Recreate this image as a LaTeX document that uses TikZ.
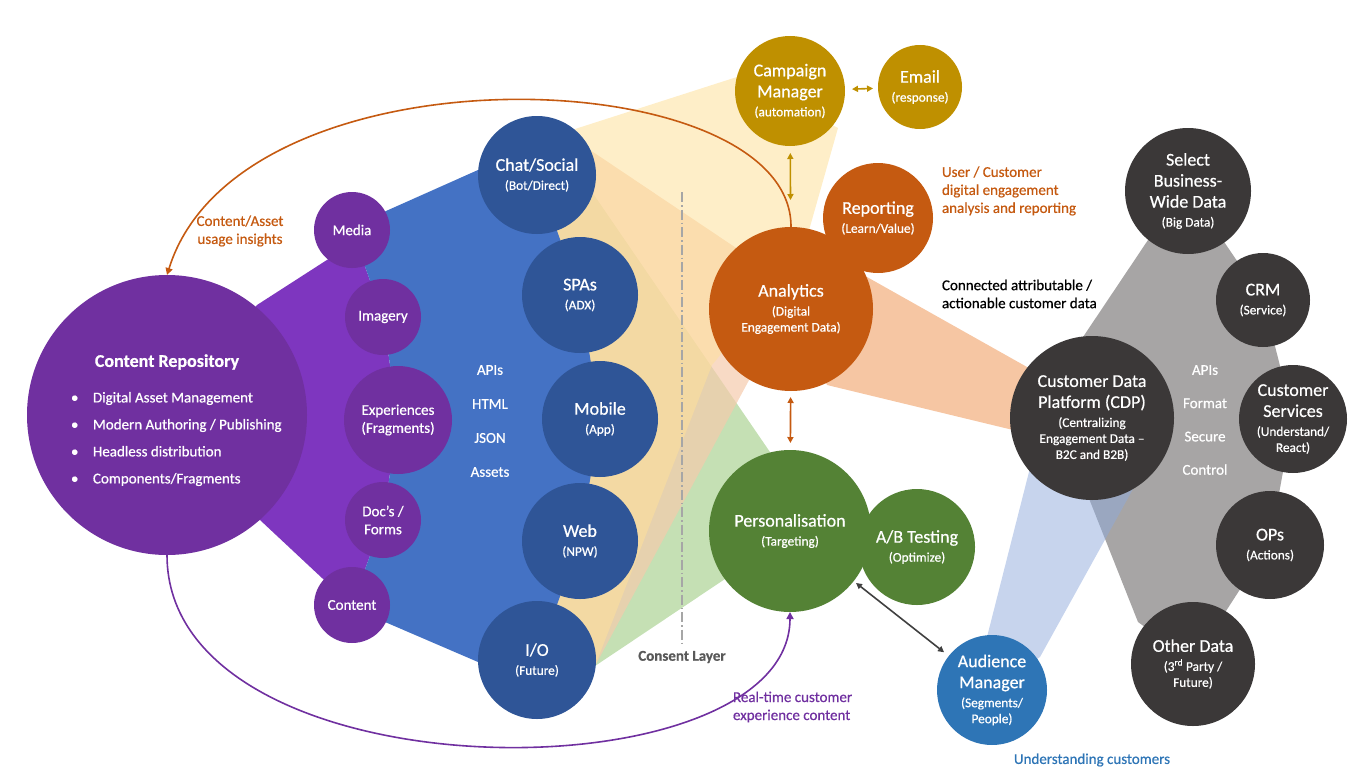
\documentclass[tikz,border=0pt]{standalone}
\usepackage{fontspec}
\setmainfont{Carlito}[FakeBold=0.6]
\usetikzlibrary{arrows.meta}
\definecolor{cpurple}{HTML}{7030A0}
\definecolor{fpurple}{HTML}{7E36BF}
\definecolor{cblue}{HTML}{2F5597}
\definecolor{fblue}{HTML}{4472C4}
\definecolor{cgold}{HTML}{BF9000}
\definecolor{corange}{HTML}{C55A11}
\definecolor{cgreen}{HTML}{548235}
\definecolor{camblue}{HTML}{2E75B6}
\definecolor{cdark}{HTML}{3B3838}
\definecolor{fgrey}{HTML}{A7A5A5}
\definecolor{fcm}{RGB}{254,224,155}
\definecolor{fan}{RGB}{245,203,172}
\definecolor{fgreen}{RGB}{197,224,180}
\definecolor{flblue}{HTML}{8FAADC}
\definecolor{fpeachsolid}{HTML}{F6C6A3}
\definecolor{cgreytext}{HTML}{595959}
\definecolor{cline}{HTML}{A6A6A6}
\definecolor{darrow}{HTML}{404040}
\newcommand\ttl[1]{{\fontsize{18}{21}\selectfont #1}}
\begin{document}
\begin{tikzpicture}[x=1pt,y=-1pt,
 every node/.style={inner sep=0pt, outer sep=0pt},
 bubble/.style={circle, text=white, align=center, font=\fontsize{13.3}{16}\selectfont},
 smallbub/.style={circle, text=white, align=center, font=\fontsize{15}{18}\selectfont, fill=cpurple, minimum size=76pt},
 lbl/.style={align=center, font=\fontsize{15}{18}\selectfont},
 tip/.style={-{Triangle[length=7pt,width=7pt]}},
 dtip/.style={{Triangle[length=6pt,width=6pt]}-{Triangle[length=6pt,width=6pt]}},
]
\useasboundingbox (0,0) rectangle (1362,784);
% ---- fans ----
\fill[fgreen] (537,175) -- (594,195) -- (772,455) -- (790,531) -- (725,579) -- (595,666) -- (537,660) -- cycle;
\fill[fan, fill opacity=0.7] (537,175) -- (590,150) -- (760,264) -- (791,309) -- (748,382) -- (595,666) -- (537,660) -- cycle;
\fill[fcm, fill opacity=0.55] (537,175) -- (575,129) -- (740,76) -- (838,128) -- (802,255) -- (712,365) -- (595,666) -- (537,660) -- cycle;
\fill[fpeachsolid] (791,309) -- (867,277) -- (1027,367) -- (1092,415) -- (1013,430) -- (827,385) -- cycle;
\fill[fgrey] (1188,189) -- (1150,237) -- (1083,337) -- (1092,415) -- (1088,496) -- (1138,622) -- (1193,662) -- (1270,543) -- (1293,417) -- (1263,299) -- cycle;
\fill[flblue, fill opacity=0.5] (992,690) -- (987,637) -- (1032,460) -- (1092,415) -- (1133,489) -- (1040,657) -- cycle;
\fill[fpurple] (167,415) -- (257,305) -- (330,258) -- (352,230) -- (383,317) -- (398,420) -- (383,520) -- (352,605) -- (322,578) -- (260,520) -- cycle;
\fill[fblue] (352,230) -- (386,211) -- (478,170) -- (537,175) -- (580,295) -- (600,419) -- (580,541) -- (537,660) -- (478,662) -- (385,622) -- (352,605) -- (383,520) -- (398,420) -- (383,317) -- cycle;
% ---- consent layer ----
\coordinate (cltop) at (682,192);
\node[font=\fontsize{15}{18}\selectfont\bfseries, text=cgreytext] (consent) at (682,657) {Consent Layer};
\draw[cline, line width=1.3pt, dash pattern=on 10pt off 3pt on 1.5pt off 3pt] (cltop) -- ([yshift=7pt]consent.north);
% ---- circles ----
\node[circle, fill=cpurple, minimum size=280pt] (cr) at (167,415) {};
\node[text=white, font=\fontsize{18}{21}\selectfont\bfseries] (crt) at (167,362) {Content Repository};
\node[text=white, align=left, anchor=west, font=\fontsize{15}{27}\selectfont] (crl) at (71,439) {\makebox[22pt][l]{\textbullet}Digital Asset Management\\\makebox[22pt][l]{\textbullet}Modern Authoring / Publishing\\\makebox[22pt][l]{\textbullet}Headless distribution\\\makebox[22pt][l]{\textbullet}Components/Fragments};
\node[smallbub] (media) at (352,230) {Media};
\node[smallbub] (imagery) at (383,317) {Imagery};
\node[smallbub, minimum size=108pt] (exper) at (398,420) {Experiences\\(Fragments)};
\node[smallbub] (docs) at (383,520) {Doc’s /\\Forms};
\node[smallbub] (content) at (352,605) {Content};
\node[bubble, fill=cblue, minimum size=118pt] (chat) at (537,175) {\ttl{Chat/Social}\\[3pt](Bot/Direct)};
\node[bubble, fill=cblue, minimum size=116pt] (spas) at (580,295) {\ttl{SPAs}\\[3pt](ADX)};
\node[bubble, fill=cblue, minimum size=116pt] (mobile) at (600,419) {\ttl{Mobile}\\[3pt](App)};
\node[bubble, fill=cblue, minimum size=116pt] (web) at (580,541) {\ttl{Web}\\[3pt](NPW)};
\node[bubble, fill=cblue, minimum size=118pt] (io) at (537,660) {\ttl{I/O}\\[3pt](Future)};
\node[text=white, align=center, font=\fontsize{15}{34}\selectfont] (apis) at (490,421) {APIs\\HTML\\JSON\\Assets};
\node[bubble, fill=cgold, minimum size=110pt] (cm) at (790,91) {\ttl{Campaign}\\[5pt]\ttl{Manager}\\[3pt](automation)};
\node[bubble, fill=cgold, minimum size=84pt] (email) at (920,87) {\ttl{Email}\\[3pt](response)};
\node[bubble, fill=corange, minimum size=110pt] (rep) at (878,218) {\ttl{Reporting}\\[3pt](Learn/Value)};
\node[bubble, fill=corange, minimum size=164pt] (an) at (791,309) {\ttl{Analytics}\\[3pt](Digital\\Engagement Data)};
\node[bubble, fill=cgreen, minimum size=162pt] (pers) at (790,531) {\ttl{Personalisation}\\[3pt](Targeting)};
\node[bubble, fill=cgreen, minimum size=116pt] (ab) at (917,547) {\ttl{A/B Testing}\\[3pt](Optimize)};
\node[bubble, fill=camblue, minimum size=110pt] (am) at (992,690) {\ttl{Audience}\\[5pt]\ttl{Manager}\\[3pt](Segments/\\People)};
\node[bubble, fill=cdark, minimum size=164pt] (cdp) at (1092,418) {\ttl{Customer Data}\\[5pt]\ttl{Platform (CDP)}\\[3pt](Centralizing\\Engagement Data –\\B2C and B2B)};
\node[bubble, fill=cdark, minimum size=126pt] (sel) at (1188,191) {\ttl{Select}\\[5pt]\ttl{Business-}\\[5pt]\ttl{Wide Data}\\[3pt](Big Data)};
\node[bubble, fill=cdark, minimum size=94pt] (crm) at (1263,300) {\ttl{CRM}\\[3pt](Service)};
\node[bubble, fill=cdark, minimum size=108pt] (cs) at (1293,419) {\ttl{Customer}\\[5pt]\ttl{Services}\\[3pt](Understand/\\React)};
\node[bubble, fill=cdark, minimum size=108pt] (ops) at (1270,545) {\ttl{OPs}\\[3pt](Actions)};
\node[bubble, fill=cdark, minimum size=124pt] (other) at (1193,664) {\ttl{Other Data}\\[3pt](3\textsuperscript{rd} Party /\\Future)};
\node[text=white, align=center, font=\fontsize{15}{33.3}\selectfont] (gapis) at (1205,420) {APIs\\Format\\Secure\\Control};
% ---- labels ----
\node[lbl, text=corange] (lcai) at (240,231) {Content/Asset\\usage insights};
\node[lbl, align=left, text=corange, anchor=west] (luser) at (942,191) {User / Customer\\digital engagement\\analysis and reporting};
\node[lbl, align=left, text=black, anchor=west] (lconn) at (942,294) {Connected attributable /\\actionable customer data};
\node[lbl, align=left, text=cpurple, anchor=west] (lrt) at (733,707) {Real-time customer\\experience content};
\node[lbl, text=camblue] (lund) at (1092,760) {Understanding customers};
% ---- connectors ----
\draw[tip, corange, line width=1.6pt] (an.north) .. controls (792,60) and (240,40) .. (cr.north);
\draw[tip, cpurple, line width=1.6pt] (cr.south) .. controls (167,800) and (790,800) .. (pers.south);
\draw[dtip, cgold, line width=1.6pt, shorten <=7pt, shorten >=27pt] (cm) -- (an);
\draw[dtip, corange, line width=1.6pt, shorten <=6pt, shorten >=7pt] (an) -- (pers);
\draw[dtip, darrow, line width=1.6pt, shorten <=3pt, shorten >=6pt] (pers) -- (am);
\draw[dtip, cgold, line width=1.6pt, shorten <=7pt, shorten >=5pt] (cm) -- (email);
\end{tikzpicture}
\end{document}
